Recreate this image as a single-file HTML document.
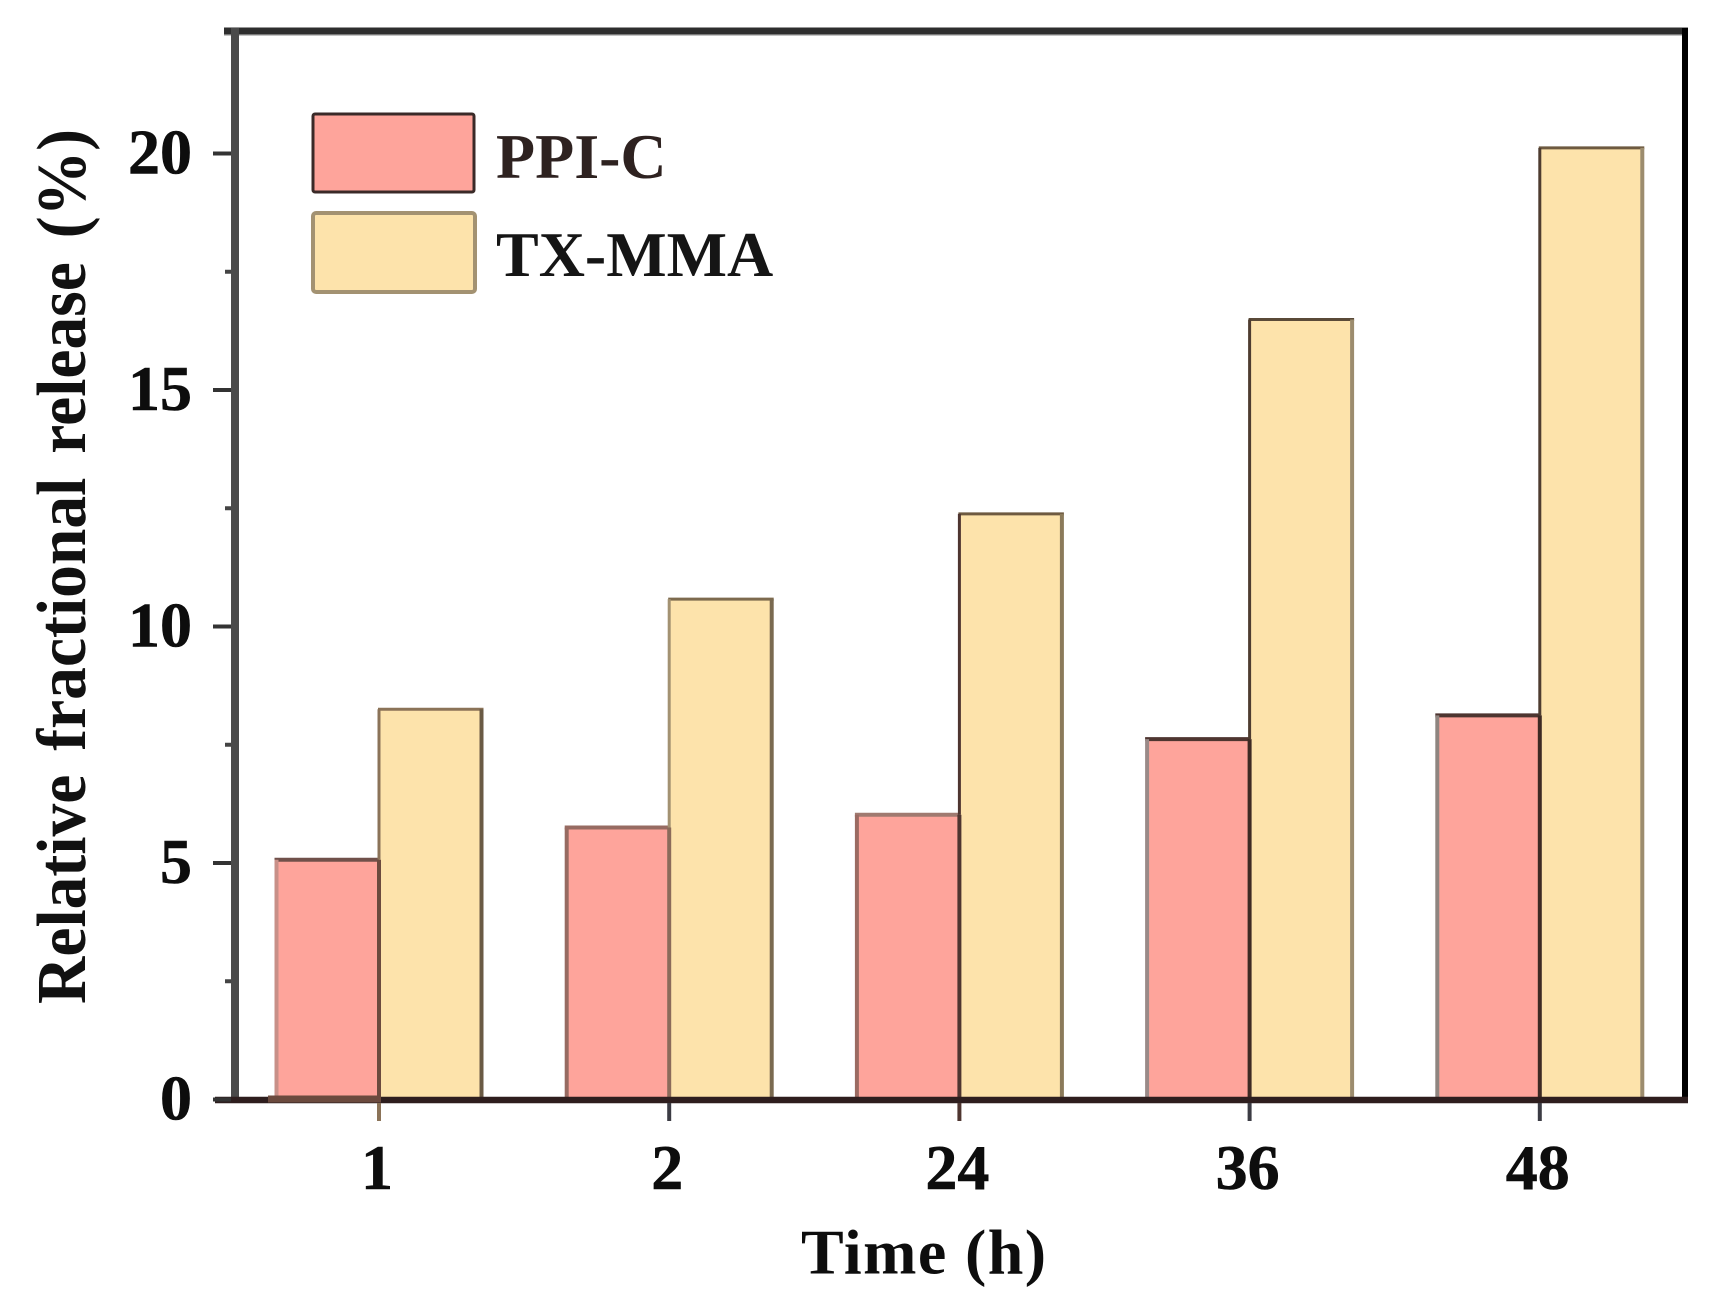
<!DOCTYPE html>
<html>
<head>
<meta charset="utf-8">
<title>Relative fractional release</title>
<style>
html,body{margin:0;padding:0;background:#fff;width:1718px;height:1303px;overflow:hidden}
svg{display:block}
text{font-family:"Liberation Serif",serif;font-weight:bold}
</style>
</head>
<body>
<svg id="chart" xmlns="http://www.w3.org/2000/svg" width="1718" height="1303" viewBox="0 0 1718 1303"></svg>
<script>
const categories = ["1", "2", "24", "36", "48"];
const seriesNames = ["PPI-C", "TX-MMA"];
const ppiValues = [5.07, 5.75, 6.02, 7.62, 8.12];
const txValues = [8.25, 10.58, 12.38, 16.49, 20.12];
const yMajorTicks = [0, 5, 10, 15, 20];
const yMinorTicks = [2.5, 7.5, 12.5, 17.5];
const yTitle = "Relative fractional release (%)";
const xTitle = "Time (h)";

const NS = "http://www.w3.org/2000/svg";
const svg = document.getElementById("chart");
const Y0 = 1099.5, YPX = 47.3, X0 = 379, XSTEP = 290.2, BAR = 102.5;
function yScale(v){ return Y0 - v * YPX; }
function xScale(i){ return X0 + i * XSTEP; }
function make(tag, attrs, txt){
  const el = document.createElementNS(NS, tag);
  for (const k in attrs) el.setAttribute(k, attrs[k]);
  if (txt !== undefined) el.textContent = txt;
  svg.appendChild(el);
  return el;
}
function line(x1, y1, x2, y2, color, w){
  return make("line", {x1:x1, y1:y1, x2:x2, y2:y2, stroke:color, "stroke-width":w});
}

const ppiEdges = [
  {top:"#70504a", left:"#c89088", mid:"#6b4a3e"},
  {top:"#976b62", left:"#976b62", mid:"#8b6b5a"},
  {top:"#a07a70", left:"#9b6b62", mid:"#4e3530"},
  {top:"#4e3530", left:"#9a8a88", mid:"#3e2a24"},
  {top:"#4e3530", left:"#8f8580", mid:"#3e2a24"}
];
const txEdges = [
  {top:"#8b7358", left:"#8b7358", right:"#6a5a44"},
  {top:"#7d6a4e", left:"#a39272", right:"#7a6a50"},
  {top:"#6e5a40", left:"#4e3530", right:"#8b7a5a"},
  {top:"#5a4a38", left:"#4e3c30", right:"#9c8c6e"},
  {top:"#6e5a40", left:"#4e3c30", right:"#9c8c6e"}
];

// bars
categories.forEach(function(cat, i){
  const c = xScale(i);
  const ty = yScale(txValues[i]);
  const tb = make("rect", {x:c, y:ty, width:BAR, height:Y0 - ty, fill:"#fde3ab"});
  
  
  const tt = line(c - 1, ty, c + BAR + 2, ty, txEdges[i].top, 3);
  
  
  const tr = line(c + BAR, ty, c + BAR, Y0 + 3, txEdges[i].right, 4);
  
  

  const py = yScale(ppiValues[i]);
  const pb = make("rect", {x:c - BAR, y:py, width:BAR, height:Y0 - py, fill:"#fea49b"});
  
  
  const pt = line(c - BAR - 2, py, c, py, ppiEdges[i].top, 4);
  
  
  const pl = line(c - BAR, py, c - BAR, Y0 + 3, ppiEdges[i].left, 4);
  
  

  const tl = line(c, ty, c, py, txEdges[i].left, 3);
  
  
  const pm = line(c, py, c, Y0, ppiEdges[i].mid, 4);
  
  
});

// frame
const spineTopShadow = line(224, 35, 1688, 35, "#c4c4c4", 2);


const spineTop = line(224, 31, 1688, 31, "#2e2e2e", 7);


const spineLeft = line(235, 28, 235, 1100, "#4a4a4a", 8);


const spineRight = line(1685, 28, 1685, 1103, "#000000", 6);


const spineBottom = line(215, 1100, 1688, 1100, "#2e1e1e", 6.5);


const firstBase = line(268, 1099, xScale(0) + 2, 1099, "#6b4a3e", 7);



// y ticks
yMajorTicks.forEach(function(v){
  const y = yScale(v);
  const tk = line(213, y, 231, y, "#333333", 4);
  
  
  const lb = make("text", {x:192, y:y + 20, "text-anchor":"end", "font-size":64, fill:"#0d0d0d", stroke:"#0d0d0d", "stroke-width":0.6}, String(v));
  
  
});
yMinorTicks.forEach(function(v){
  const y = yScale(v);
  const tk = line(225, y, 231, y, "#444444", 4);
  
  
});

// x ticks
categories.forEach(function(cat, i){
  const c = xScale(i);
  const tk = line(c, 1103, c, 1121, i === 0 ? "#8b7358" : (i === 2 ? "#4e3530" : "#3c3c44"), 4);
  
  
  const lb = make("text", {x:c - 2, y:1189, "text-anchor":"middle", "font-size":64, fill:"#0d0d0d", stroke:"#0d0d0d", "stroke-width":0.6}, cat);
  
  
});

// axis titles
const xt = make("text", {x:801, y:1273.5, "font-size":64, "letter-spacing":1.4, fill:"#0d0d0d"}, xTitle);


const yt = make("text", {x:0, y:0, "font-size":70, "word-spacing":8, fill:"#111111", textLength:875, lengthAdjust:"spacingAndGlyphs", transform:"translate(85,1004) rotate(-90)"}, yTitle);



// legend
const l1 = make("rect", {x:313, y:114, width:161, height:78, rx:2, fill:"#fea49b", stroke:"#3a2a28", "stroke-width":3});


const l1t = make("text", {x:496, y:178, "font-size":64, fill:"#2e2220"}, seriesNames[0]);


const l2 = make("rect", {x:313, y:213, width:162, height:79, rx:3, fill:"#fde3ab", stroke:"#a39272", "stroke-width":4});


const l2t = make("text", {x:496, y:276, "font-size":64, fill:"#151515"}, seriesNames[1]);


</script>
</body>
</html>
